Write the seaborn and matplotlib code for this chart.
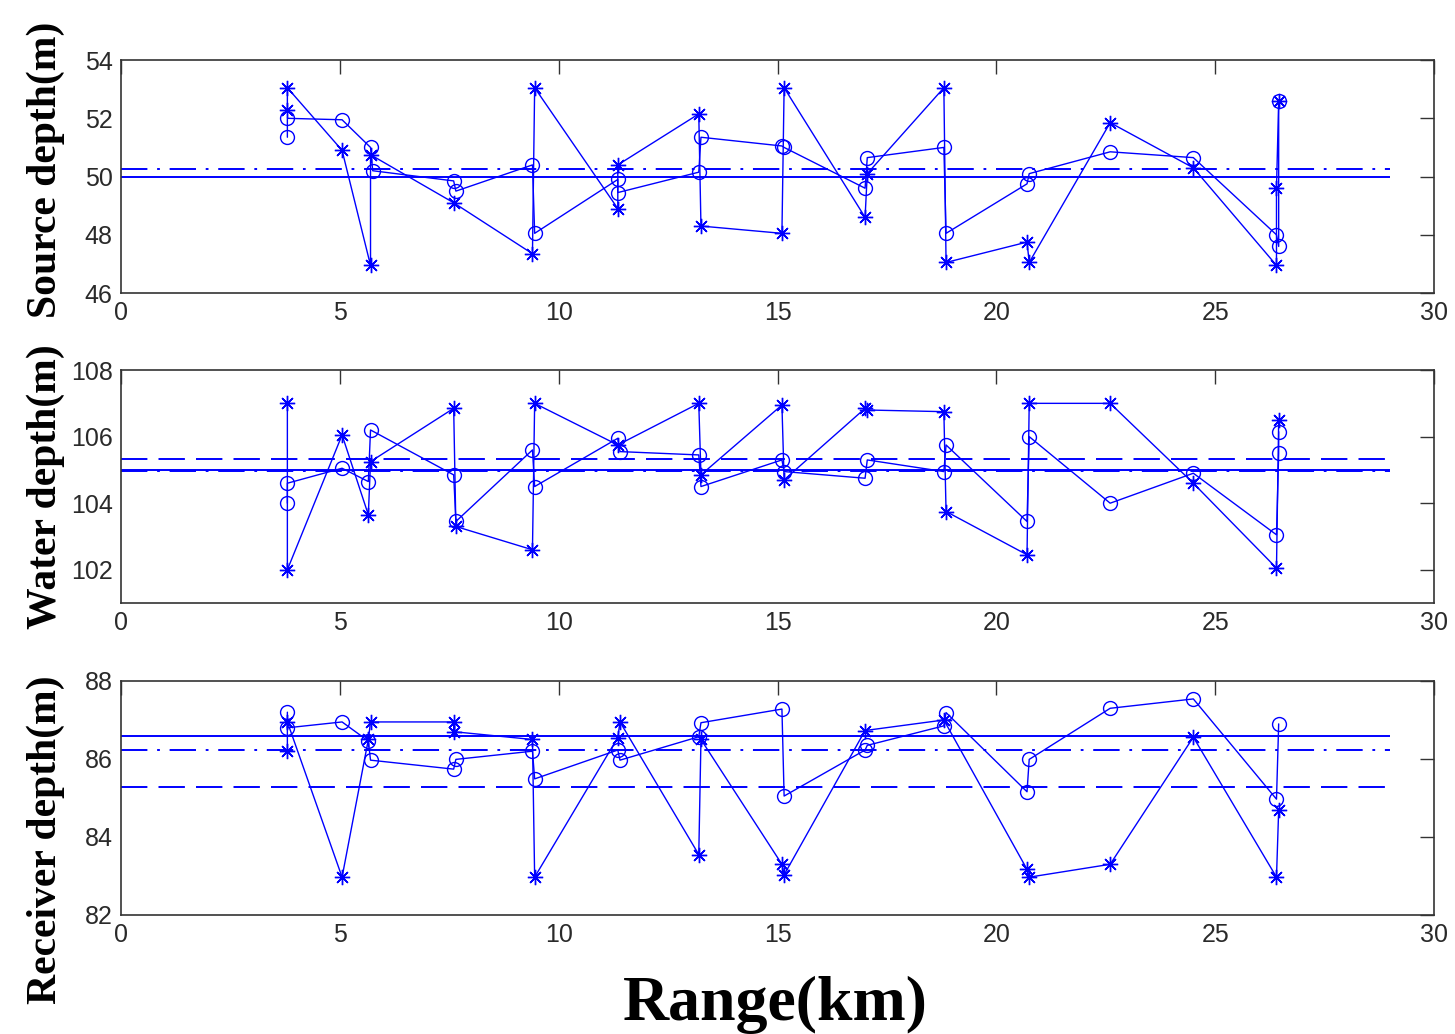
import matplotlib
matplotlib.use("Agg")
import matplotlib.pyplot as plt
import seaborn as sns

# ---- values ----
range_ticks = [0, 5, 10, 15, 20, 25, 30]
ref_end = 29.0

# Source depth (m)
src_star_x = [3.8, 3.8, 5.05, 5.7, 5.7, 7.6, 9.4, 9.45, 11.35, 11.35, 13.2, 13.25,
              15.1, 15.15, 17.0, 17.05, 18.8, 18.85, 20.7, 20.75, 22.6, 24.5, 26.4, 26.4, 26.45]
src_star_y = [52.3, 53.05, 50.9, 46.95, 50.75, 49.1, 47.35, 53.05, 48.9, 50.4, 52.15, 48.3,
              48.05, 53.05, 48.6, 50.1, 53.05, 47.05, 47.75, 47.05, 51.85, 50.3, 46.95, 49.6, 52.6]
src_circ_x = [3.8, 3.8, 5.05, 5.7, 5.75, 7.6, 7.65, 9.4, 9.45, 11.35, 11.35, 13.2, 13.25,
              15.1, 15.15, 17.0, 17.05, 18.8, 18.85, 20.7, 20.75, 22.6, 24.5, 26.4, 26.45, 26.45]
src_circ_y = [51.35, 52.0, 51.95, 51.0, 50.2, 49.85, 49.5, 50.4, 48.05, 49.9, 49.45, 50.15, 51.35,
              51.05, 51.0, 49.6, 50.65, 51.0, 48.05, 49.75, 50.1, 50.85, 50.65, 48.0, 47.6, 52.6]
src_solid, src_dashdot = 50.0, 50.25

# Water depth (m)
wat_star_x = [3.8, 3.8, 5.05, 5.65, 5.7, 7.6, 7.65, 9.4, 9.45, 11.35, 13.2, 13.25,
              15.1, 15.15, 17.0, 17.05, 18.8, 18.85, 20.7, 20.75, 22.6, 24.5, 26.4, 26.45]
wat_star_y = [107.0, 102.0, 106.05, 103.65, 105.25, 106.85, 103.3, 102.6, 107.0, 105.75, 107.0, 104.85,
              106.95, 104.7, 106.85, 106.8, 106.75, 103.75, 102.45, 107.0, 107.0, 104.6, 102.05, 106.5]
wat_circ_x = [3.8, 3.8, 5.05, 5.65, 5.7, 7.6, 7.65, 9.4, 9.45, 11.35, 11.4, 13.2, 13.25,
              15.1, 15.15, 17.0, 17.05, 18.8, 18.85, 20.7, 20.75, 22.6, 24.5, 26.4, 26.45, 26.45]
wat_circ_y = [104.0, 104.6, 105.05, 104.65, 106.2, 104.85, 103.45, 105.6, 104.5, 105.95, 105.55, 105.45, 104.5,
              105.3, 104.95, 104.75, 105.3, 104.95, 105.75, 103.45, 106.0, 104.0, 104.9, 103.05, 105.5, 106.15]
wat_solid, wat_dashed, wat_dashdot = 105.0, 105.33, 104.97

# Receiver depth (m)
rcv_star_x = [3.8, 3.8, 5.05, 5.65, 5.7, 7.6, 7.6, 9.4, 9.45, 11.35, 11.4, 13.2, 13.25,
              15.1, 15.15, 17.0, 18.8, 20.7, 20.75, 22.6, 24.5, 26.4, 26.45]
rcv_star_y = [86.2, 86.95, 82.97, 86.5, 86.95, 86.95, 86.7, 86.5, 82.97, 86.55, 86.95, 83.55, 86.5,
              83.3, 83.03, 86.73, 87.0, 83.17, 82.97, 83.3, 86.56, 82.97, 84.7]
rcv_circ_x = [3.8, 3.8, 5.05, 5.65, 5.7, 7.6, 7.65, 9.4, 9.45, 11.35, 11.4, 13.2, 13.25,
              15.1, 15.15, 17.0, 17.05, 18.8, 18.85, 20.7, 20.75, 22.6, 24.5, 26.4, 26.45]
rcv_circ_y = [87.2, 86.8, 86.95, 86.46, 85.97, 85.74, 85.99, 86.2, 85.49, 86.23, 85.97, 86.57, 86.93,
              87.28, 85.05, 86.23, 86.35, 86.85, 87.19, 85.16, 85.99, 87.3, 87.54, 84.97, 86.9]
rcv_solid, rcv_dashdot, rcv_dashed = 86.59, 86.23, 85.28

sns.set_style("white")
plt.rcParams["font.family"] = ["Liberation Sans", "DejaVu Sans"]
plt.rcParams["lines.scale_dashes"] = False

BLUE = "#0000ff"
SOLID = "-"
DASHED = (0, (19, 8))
DASHDOT = (0, (19, 7, 2, 7))

panels = [
    dict(sx=src_star_x, sy=src_star_y, cx=src_circ_x, cy=src_circ_y,
         refs=[(src_solid, SOLID), (src_dashdot, DASHDOT)],
         ylim=(46, 54), yticks=[46, 48, 50, 52, 54], label="Source depth(m)",
         rect=[0.0832, 0.7166, 0.9024, 0.2253], ly=0.53),
    dict(sx=wat_star_x, sy=wat_star_y, cx=wat_circ_x, cy=wat_circ_y,
         refs=[(wat_solid, SOLID), (wat_dashed, DASHED), (wat_dashdot, DASHDOT)],
         ylim=(101, 108), yticks=[102, 104, 106, 108], label="Water depth(m)",
         rect=[0.0832, 0.4168, 0.9024, 0.2253], ly=0.5),
    dict(sx=rcv_star_x, sy=rcv_star_y, cx=rcv_circ_x, cy=rcv_circ_y,
         refs=[(rcv_solid, SOLID), (rcv_dashdot, DASHDOT), (rcv_dashed, DASHED)],
         ylim=(82, 88), yticks=[82, 84, 86, 88], label="Receiver depth(m)",
         rect=[0.0832, 0.1151, 0.9024, 0.2263], ly=0.32),
]

fig = plt.figure(figsize=(14.55, 10.34), dpi=100)

for p in panels:
    ax = fig.add_axes(p["rect"])
    for yv, ls in p["refs"]:
        ax.hlines(yv, 0, ref_end, colors=BLUE, linestyles=[ls], linewidth=1.4)
    sns.lineplot(x=p["sx"], y=p["sy"], sort=False, estimator=None, ax=ax,
                 color=BLUE, linewidth=1.0, marker=(8, 2, 0), markersize=11,
                 markeredgecolor=BLUE, markeredgewidth=1.0)
    sns.lineplot(x=p["cx"], y=p["cy"], sort=False, estimator=None, ax=ax,
                 color=BLUE, linewidth=1.0, marker="o", markersize=10,
                 markerfacecolor="none", markeredgecolor=BLUE, markeredgewidth=1.0)
    ax.set_xlim(0, 30)
    ax.set_ylim(*p["ylim"])
    ax.set_xticks(range_ticks)
    ax.set_yticks(p["yticks"])
    ax.tick_params(direction="in", top=True, right=True, length=10, width=1,
                   color="#333333", labelcolor="#2a2a2a", labelsize=18, pad=6)
    for sp in ax.spines.values():
        sp.set_color("#333333")
        sp.set_linewidth(1.2)
    ax.set_ylabel(p["label"], family=["Liberation Serif", "DejaVu Serif"],
                  fontweight="bold", fontsize=30, color="black")
    ax.yaxis.set_label_coords(-0.043, p["ly"])

fig.text(0.533, 0.0135, "Range(km)", family=["Liberation Serif", "DejaVu Serif"],
         fontweight="bold", fontsize=46, ha="center", va="baseline", color="black")

fig.savefig("out.png", dpi=100)
